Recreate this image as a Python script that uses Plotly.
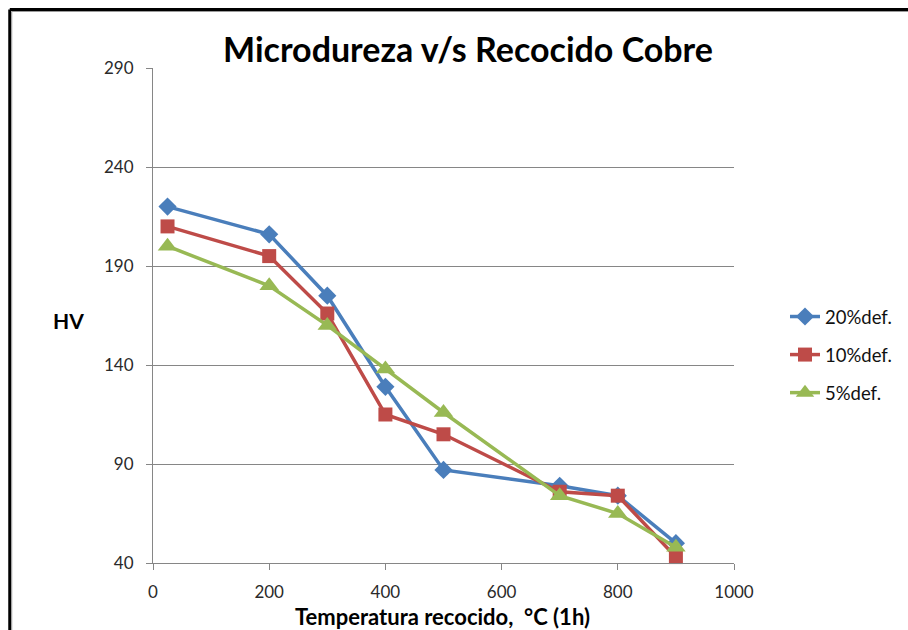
import plotly.graph_objects as go

# Annealing temperature (°C, 1 h) and Vickers microhardness for copper
temperatura = [25, 200, 300, 400, 500, 700, 800, 900]
hv_20 = [220, 206, 175, 129, 87, 79, 74, 50]
hv_10 = [210, 195, 166, 115, 105, 76, 74, 43]
hv_5 = [200, 180, 160, 138, 116, 74, 65, 48]

series_names = ["20%def.", "10%def.", "5%def."]
y_ticks = [40, 90, 140, 190, 240, 290]
x_ticks = [0, 200, 400, 600, 800, 1000]

FONT = "Lato, Open Sans, sans-serif"

styles = [
    dict(color="#4A7EBB", symbol="diamond", size=14),
    dict(color="#BE4B48", symbol="square", size=14),
    dict(color="#98B954", symbol="triangle-up", size=17),
]

fig = go.Figure()
for i, (name, vals, st) in enumerate(zip(series_names, [hv_20, hv_10, hv_5], styles)):
    fig.add_trace(go.Scatter(
        x=temperatura, y=vals, name=name, mode="lines+markers",
        legendgroup=f"g{i}",
        line=dict(color=st["color"], width=3.5),
        marker=dict(color=st["color"], symbol=st["symbol"], size=st["size"],
                    line=dict(width=0)),
        cliponaxis=False,
    ))

L, R, T, B = 153, 173, 68, 67
W, H = 908, 630
pw, ph = W - L - R, H - T - B

def px_x(p):
    return (p - L) / pw

def px_y(p):
    return 1 - (p - T) / ph

fig.update_layout(
    width=W, height=H,
    margin=dict(l=L, r=R, t=T, b=B, pad=0),
    paper_bgcolor="white", plot_bgcolor="white",
    font=dict(family=FONT, size=16, color="#222"),
    showlegend=True,
    legend=dict(
        x=px_x(785), y=px_y(298), xanchor="left", yanchor="top",
        font=dict(family=FONT, size=18.5, color="#111"),
        tracegroupgap=11, bgcolor="rgba(0,0,0,0)",
    ),
    xaxis=dict(
        range=[0, 1000], tickvals=x_ticks, ticks="outside", ticklen=6,
        tickcolor="#868686", showline=True, linecolor="#868686", linewidth=1,
        showgrid=False, zeroline=False, ticklabelstandoff=8,
        tickfont=dict(family=FONT, size=17, color="#2a2a2a"),
    ),
    yaxis=dict(
        range=[40, 290], tickvals=y_ticks, ticks="outside", ticklen=6,
        tickcolor="#868686", showline=True, linecolor="#868686", linewidth=1,
        showgrid=True, gridcolor="#868686", gridwidth=1, zeroline=False,
        ticklabelstandoff=9,
        tickfont=dict(family=FONT, size=17, color="#2a2a2a"),
    ),
)

# Title and axis labels
fig.add_annotation(
    text="<b>Microdureza v/s Recocido Cobre</b>", xref="paper", yref="paper",
    x=px_x(469), y=px_y(49), xanchor="center", yanchor="middle",
    showarrow=False, font=dict(family=FONT, size=34, color="#000"),
)
fig.add_annotation(
    text="<b>HV</b>", xref="paper", yref="paper",
    x=px_x(68), y=px_y(320), xanchor="center", yanchor="middle",
    showarrow=False, font=dict(family=FONT, size=21, color="#000"),
)
fig.add_annotation(
    text="<b>Temperatura recocido,  °C (1h)</b>", xref="paper", yref="paper",
    x=px_x(443), y=px_y(616), xanchor="center", yanchor="middle",
    showarrow=False, font=dict(family=FONT, size=22, color="#000"),
)

# Outer frame along the top and left edges
fx, fy = px_x(9.5), px_y(9.5)
fig.add_shape(type="line", xref="paper", yref="paper",
              x0=fx, y0=px_y(640), x1=fx, y1=fy, line=dict(color="black", width=3))
fig.add_shape(type="line", xref="paper", yref="paper",
              x0=fx, y0=fy, x1=px_x(920), y1=fy, line=dict(color="black", width=3))
fig.add_shape(type="line", xref="paper", yref="paper",
              x0=px_x(11.5), y0=px_y(640), x1=px_x(11.5), y1=px_y(11.5),
              line=dict(color="#9a9a9a", width=1))
fig.add_shape(type="line", xref="paper", yref="paper",
              x0=px_x(11.5), y0=px_y(11.5), x1=px_x(920), y1=px_y(11.5),
              line=dict(color="#9a9a9a", width=1))

fig.write_html("out.html")
